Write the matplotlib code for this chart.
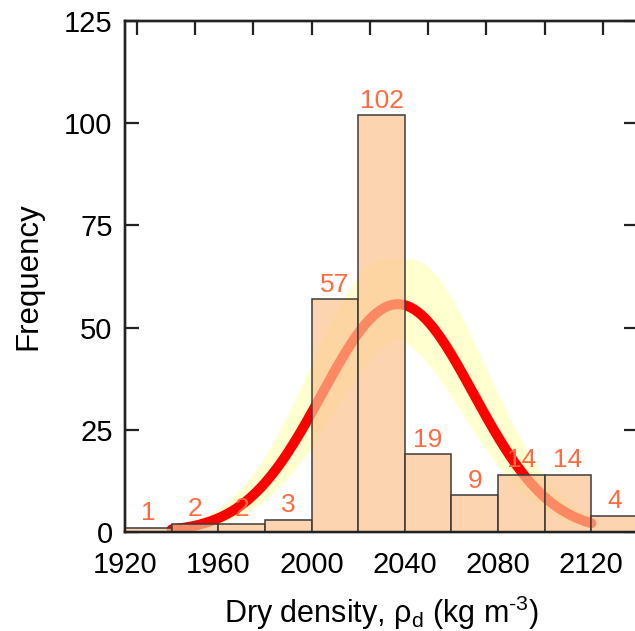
import numpy as np
import matplotlib
matplotlib.use("Agg")
import matplotlib.pyplot as plt

plt.rcParams['font.family'] = ['Liberation Sans', 'DejaVu Sans']
plt.rcParams['mathtext.fontset'] = 'custom'
plt.rcParams['mathtext.rm'] = 'Liberation Sans'
plt.rcParams['mathtext.it'] = 'Liberation Sans'
plt.rcParams['mathtext.default'] = 'regular'

# Histogram of dry density (bin edges in kg m^-3)
bin_edges = [1920, 1940, 1960, 1980, 2000, 2020, 2040, 2060, 2080, 2100, 2120, 2140]
counts = [1, 2, 2, 3, 57, 102, 19, 9, 14, 14, 4]

# Normal fit and its uncertainty band
fit_mean = 2037.0
fit_sd = 32.5
mean_err = 5.0
amp_lo, amp_hi = 0.86, 1.20
fit_range = (1940, 2120)

x_ticks = [1920, 1960, 2000, 2040, 2080, 2120]
top_ticks = [1925, 1950, 1975, 2000, 2025, 2050, 2075, 2100, 2125]
y_ticks = [0, 25, 50, 75, 100, 125]

W, H = 635, 631
fig = plt.figure(figsize=(W / 100, H / 100), dpi=100)
ax = fig.add_axes([125 / W, 1 - 532 / H, (638 - 125) / W, (532 - 21) / H])

edges = np.array(bin_edges, dtype=float)
widths = np.diff(edges)
total = sum(counts)
scale = total * widths[0] / (fit_sd * np.sqrt(2 * np.pi))

xs = np.linspace(fit_range[0], fit_range[1], 400)


def gauss(x, mu, amp):
    return amp * np.exp(-0.5 * ((x - mu) / fit_sd) ** 2)


curve = gauss(xs, fit_mean, scale)
variants = [gauss(xs, fit_mean + dm, scale * a)
            for dm in np.linspace(-mean_err, mean_err, 11)
            for a in (amp_lo, amp_hi)]
band_lo = np.min(variants, axis=0)
band_hi = np.max(variants, axis=0)

ax.fill_between(xs, band_lo, band_hi, color=(1.0, 1.0, 0.74), alpha=0.7,
                linewidth=0, zorder=1)
ax.plot(xs, curve, color='#ff0000', lw=7.2, solid_capstyle='round', zorder=2)

ax.bar(edges[:-1], counts, width=widths, align='edge',
       facecolor=(0.99, 0.77, 0.56, 0.70), edgecolor='#3c3c3c',
       linewidth=1.1, zorder=3)

for left, w, c in zip(edges[:-1], widths, counts):
    ax.text(left + w / 2, c + 0.6, str(c), ha='center', va='bottom',
            fontsize=19, color='#ff6a40', zorder=4)

ax.set_xlim(1920, 2140)
ax.set_ylim(0, 125)
ax.set_xticks(x_ticks)
ax.set_yticks(y_ticks)
ax.tick_params(axis='x', length=0, labelsize=21, pad=14, colors='black')
ax.tick_params(axis='y', direction='in', length=10, width=1.6,
               labelsize=21, pad=9, right=True, colors='#222222',
               labelcolor='black')

top = ax.twiny()
top.set_xlim(ax.get_xlim())
top.set_xticks(top_ticks)
top.tick_params(axis='x', direction='in', length=10, width=1.6,
                labeltop=False, colors='#222222')

for a in (ax, top):
    for s in a.spines.values():
        s.set_linewidth(1.7)
        s.set_color('#222222')

ax.set_ylabel('Frequency', fontsize=22.5, labelpad=15)
ax.set_xlabel(r'Dry density, $\rho_{d}$ (kg m$^{\text{-3}}$)', fontsize=22, labelpad=10)

fig.savefig('out.png', dpi=100)
